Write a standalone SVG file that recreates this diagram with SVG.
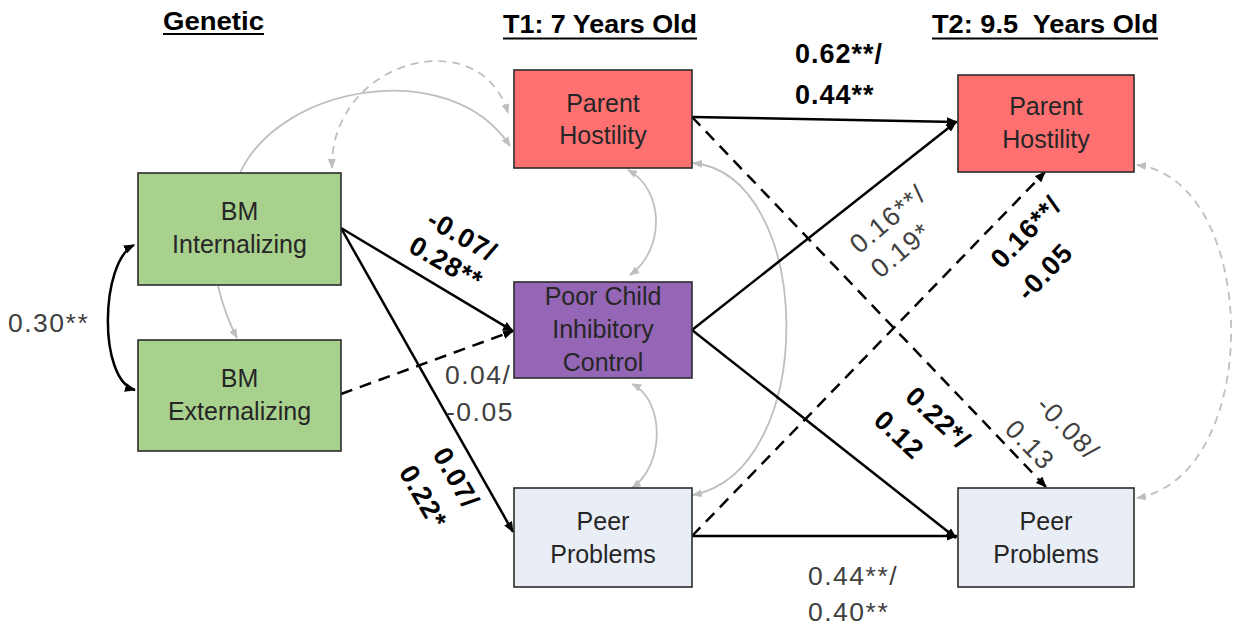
<svg xmlns="http://www.w3.org/2000/svg" width="1236" height="628" viewBox="0 0 1236 628">
<style>
.hdr{font-family:"Liberation Sans",Arial,sans-serif;font-weight:bold;font-size:26px;fill:#000}
.ul{stroke:#000;stroke-width:2.2}
.box{stroke:#2b2b2b;stroke-width:1.6}
.nt{font-family:"Liberation Sans",Arial,sans-serif;font-size:25px;fill:#262626;text-anchor:middle}
.lr{font-family:"Liberation Sans",Arial,sans-serif;font-size:26.5px;fill:#404040;letter-spacing:1.5px}
.lb{font-family:"Liberation Sans",Arial,sans-serif;font-size:27px;font-weight:bold;fill:#000;letter-spacing:1px}
.c{text-anchor:middle}
.bs{fill:none;stroke:#000;stroke-width:2.5;marker-end:url(#ab)}
.bd{fill:none;stroke:#000;stroke-width:2.5;stroke-dasharray:12 8;marker-end:url(#ab)}
.gs{fill:none;stroke:#bfbfbf;stroke-width:1.8}
.gd{fill:none;stroke:#bfbfbf;stroke-width:1.8;stroke-dasharray:8 6}
</style>
<defs>
<marker id="ab" markerUnits="userSpaceOnUse" markerWidth="11" markerHeight="9" refX="10" refY="4.5" orient="auto-start-reverse"><path d="M0,0 L11,4.5 L0,9 z" fill="#000"/></marker>
<marker id="ag" markerUnits="userSpaceOnUse" markerWidth="10" markerHeight="8" refX="9" refY="4" orient="auto-start-reverse"><path d="M0,0 L10,4 L0,8 z" fill="#bfbfbf"/></marker>
</defs>
<rect width="1236" height="628" fill="#fff"/>

<g id="headers">
<text class="hdr" x="213.5" y="30" text-anchor="middle" textLength="101" lengthAdjust="spacingAndGlyphs">Genetic</text>
<line class="ul" x1="163" y1="34" x2="264" y2="34"/>
<text class="hdr" x="600" y="33" text-anchor="middle" textLength="194" lengthAdjust="spacingAndGlyphs">T1: 7 Years Old</text>
<line class="ul" x1="503" y1="38.5" x2="697" y2="38.5"/>
<text class="hdr" x="1045" y="33" text-anchor="middle" textLength="226" lengthAdjust="spacingAndGlyphs" xml:space="preserve">T2: 9.5  Years Old</text>
<line class="ul" x1="932" y1="38.5" x2="1158" y2="38.5"/>
</g>

<g id="connectors">
<path class="gs" d="M240 173 C280 85 450 55 510 146" marker-end="url(#ag)"/>
<path class="gd" d="M332 168 C330 60 480 20 508 113" marker-start="url(#ag)" marker-end="url(#ag)"/>
<path class="gs" d="M218 286 Q225 315 237 338" marker-end="url(#ag)"/>
<path class="gs" d="M628 170 C665 190 665 250 630 275" marker-start="url(#ag)" marker-end="url(#ag)"/>
<path class="gs" d="M632 384 C665 400 665 465 632 488" marker-start="url(#ag)" marker-end="url(#ag)"/>
<path class="gs" d="M693 163 C815 175 820 470 693 495" marker-start="url(#ag)" marker-end="url(#ag)"/>
<path class="gd" d="M1137 165 C1260 180 1265 475 1137 498" marker-start="url(#ag)" marker-end="url(#ag)"/>

<path class="bs" d="M692 117 L957 122"/>
<path class="bs" d="M692 330 L956 122"/>
<path class="bs" d="M692 330 L956 538"/>
<path class="bs" d="M692 536 L957 536"/>
<path class="bs" d="M341 228 L513 331"/>
<path class="bs" d="M341 228 L513 532"/>
<path class="bs" d="M134 245 C100 262 98 380 135 390" marker-start="url(#ab)"/>
<path class="bd" d="M341 394 L513 331"/>
<path class="bd" d="M692 117 L1046 487"/>
<path class="bd" d="M692 536 L1045 172"/>
</g>

<g id="n-bm-int">
<rect class="box" x="138" y="173" width="203" height="112" fill="#a9d18e"/>
<text class="nt" x="239.5" y="220">BM</text>
<text class="nt" x="239.5" y="253">Internalizing</text>
</g>
<g id="n-bm-ext">
<rect class="box" x="138" y="340" width="203" height="111" fill="#a9d18e"/>
<text class="nt" x="239.5" y="387">BM</text>
<text class="nt" x="239.5" y="420">Externalizing</text>
</g>
<g id="n-t1-ph">
<rect class="box" x="514" y="70" width="178" height="98" fill="#ff7171"/>
<text class="nt" x="603" y="112">Parent</text>
<text class="nt" x="603" y="144">Hostility</text>
</g>
<g id="n-t1-pcic">
<rect class="box" x="514" y="282" width="178" height="96" fill="#9566b6"/>
<text class="nt" x="603" y="305">Poor Child</text>
<text class="nt" x="603" y="338">Inhibitory</text>
<text class="nt" x="603" y="371">Control</text>
</g>
<g id="n-t1-peer">
<rect class="box" x="514" y="488" width="178" height="99" fill="#e9edf6"/>
<text class="nt" x="603" y="530">Peer</text>
<text class="nt" x="603" y="563">Problems</text>
</g>
<g id="n-t2-ph">
<rect class="box" x="958" y="75" width="176" height="97" fill="#ff7171"/>
<text class="nt" x="1046" y="115">Parent</text>
<text class="nt" x="1046" y="148">Hostility</text>
</g>
<g id="n-t2-peer">
<rect class="box" x="958" y="488" width="176" height="99" fill="#e9edf6"/>
<text class="nt" x="1046" y="530">Peer</text>
<text class="nt" x="1046" y="563">Problems</text>
</g>

<g id="labels">
<text class="lr" x="8" y="332">0.30**</text>
<text class="lb" x="795" y="63">0.62**/</text>
<text class="lb" x="795" y="104">0.44**</text>
<text class="lr" x="445" y="384">0.04/</text>
<text class="lr" x="446" y="421">-0.05</text>
<text class="lr" x="808" y="585">0.44**/</text>
<text class="lr" x="808" y="621">0.40**</text>

<text class="lb c" transform="translate(462 236) rotate(30)" y="9">-0.07/</text>
<text class="lb c" transform="translate(446 263) rotate(30)" y="9">0.28**</text>
<text class="lb c" transform="translate(456 478) rotate(60)" y="9">0.07/</text>
<text class="lb c" transform="translate(423 497) rotate(60)" y="9">0.22*</text>
<text class="lr c" transform="translate(888 219) rotate(-40)" y="9">0.16**/</text>
<text class="lr c" transform="translate(901 250) rotate(-40)" y="9">0.19*</text>
<text class="lb c" transform="translate(1026 232) rotate(-46)" y="9">0.16**/</text>
<text class="lb c" transform="translate(1045 272) rotate(-46)" y="9">-0.05</text>
<text class="lb c" transform="translate(938 418) rotate(43)" y="9">0.22*/</text>
<text class="lb c" transform="translate(899 435) rotate(43)" y="9">0.12</text>
<text class="lr c" transform="translate(1068 428) rotate(46)" y="9">-0.08/</text>
<text class="lr c" transform="translate(1030 445) rotate(46)" y="9">0.13</text>
</g>
</svg>
